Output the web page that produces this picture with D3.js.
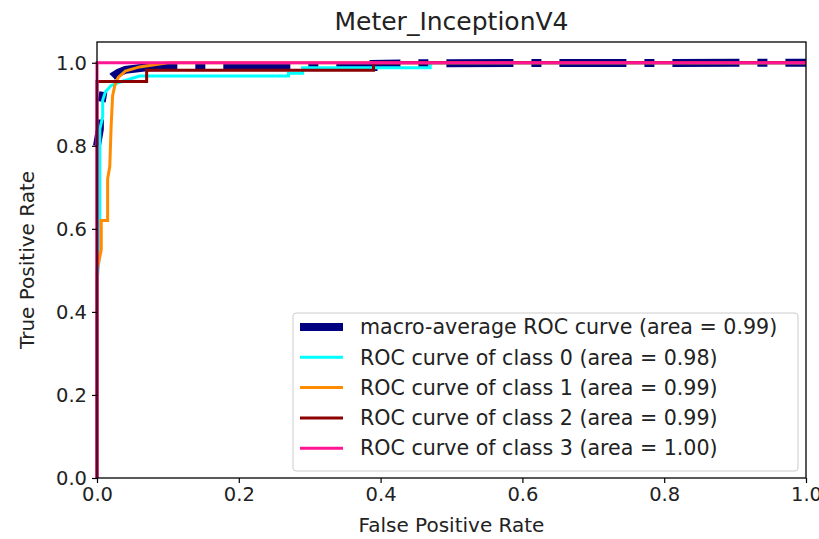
<!DOCTYPE html>
<html lang="en">
<head>
    <meta charset="UTF-8">
    <title>Meter_InceptionV4</title>
    <script src="https://d3js.org/d3.v7.min.js"></script>
    <style>
        * { margin: 0; padding: 0; box-sizing: border-box; }
        html, body { width: 819px; height: 539px; overflow: hidden; background: #fff; }
        svg { display: block; font-family: "DejaVu Sans", sans-serif; }
    </style>
</head>
<body>
<svg id="chart" width="819" height="539"></svg>
<script>
    // values
    const title = "Meter_InceptionV4"
    const xTicks = [0, 0.2, 0.4, 0.6, 0.8, 1.0]
    const yTicks = [0, 0.2, 0.4, 0.6, 0.8, 1.0]

    const macroFpr = [0, 0.004, 0.004, 0.008, 0.01, 0.015, 0.022, 0.03, 0.04, 0.07, 0.1, 0.39, 0.39, 0.47, 1.0]
    const macroTpr = [0.80, 0.84, 0.88, 0.92, 0.94, 0.955, 0.967, 0.976, 0.983, 0.989, 0.99, 0.99, 0.997, 0.999, 1.0]

    const fpr0 = [0, 0, 0.004, 0.004, 0.008, 0.008, 0.012, 0.02, 0.035, 0.06, 0.27, 0.27, 0.29, 0.29, 0.47, 0.47, 1]
    const tpr0 = [0, 0.47, 0.55, 0.84, 0.87, 0.91, 0.93, 0.945, 0.955, 0.968, 0.968, 0.975, 0.975, 0.988, 0.988, 1.0, 1.0]

    const fpr1 = [0, 0, 0.006, 0.006, 0.015, 0.015, 0.018, 0.02, 0.022, 0.025, 0.03, 0.04, 0.06, 0.1, 1]
    const tpr1 = [0, 0.50, 0.55, 0.62, 0.62, 0.72, 0.75, 0.85, 0.92, 0.945, 0.965, 0.98, 0.99, 1.0, 1.0]

    const fpr2 = [0, 0, 0.07, 0.07, 0.39, 0.39, 1]
    const tpr2 = [0, 0.955, 0.955, 0.982, 0.982, 1.0, 1.0]

    const fpr3 = [0, 0, 1]
    const tpr3 = [0, 1, 1]

    const labels = [
        "macro-average ROC curve (area = 0.99)",
        "ROC curve of class 0 (area = 0.98)",
        "ROC curve of class 1 (area = 0.99)",
        "ROC curve of class 2 (area = 0.99)",
        "ROC curve of class 3 (area = 1.00)",
    ]
    const colors = ["#000080", "#00ffff", "#ff8c00", "#8b0000", "#ff1493"]
    const widths = [8, 3, 3, 3, 3]

    const series = [
        [macroFpr, macroTpr],
        [fpr0, tpr0],
        [fpr1, tpr1],
        [fpr2, tpr2],
        [fpr3, tpr3],
    ].map(([f, t]) => f.map((v, i) => [v, t[i]]))

    const pLeft = 97, pRight = 806, pTop = 42, pBottom = 478
    const x = d3.scaleLinear().domain([0, 1]).range([pLeft, pRight])
    const y = d3.scaleLinear().domain([0, 1.05]).range([pBottom, pTop])

    const $svg = d3.select("#chart")
    $svg.append("rect").attr("width", 819).attr("height", 539).attr("fill", "#fff")

    const line = d3.line().x(d => x(d[0])).y(d => y(d[1]))
    const $lines = $svg.append("g")
    series.forEach((s, i) => {
        const p = $lines.append("path")
            .datum(s)
            .attr("d", line)
            .attr("fill", "none")
            .attr("stroke", colors[i])
            .attr("stroke-width", widths[i])
            .attr("stroke-linejoin", "miter")
        if (i === 0) {
            // dash-dot pattern, phase set so a long dash starts near x = 0.178
            const period = 113
            p.attr("stroke-dasharray", "67,18,10,18")
            const node = p.node()
            const total = node.getTotalLength()
            let L = 0
            for (let s2 = 0; s2 < total; s2 += 0.5) {
                const pt = node.getPointAtLength(s2)
                if (pt.x >= x(0.178)) { L = s2; break }
            }
            p.attr("stroke-dashoffset", (period - L % period) % period)
        }
    })

    // axes
    const $xAxis = $svg.append("g")
        .attr("transform", `translate(0,${pBottom})`)
        .call(d3.axisBottom(x).tickValues(xTicks).tickFormat(d3.format(".1f")).tickSize(5).tickPadding(4))
    const $yAxis = $svg.append("g")
        .attr("transform", `translate(${pLeft},0)`)
        .call(d3.axisLeft(y).tickValues(yTicks).tickFormat(d3.format(".1f")).tickSize(5).tickPadding(5))
    for (const $a of [$xAxis, $yAxis]) {
        $a.select(".domain").remove()
        $a.selectAll("line").attr("stroke", "#000").attr("stroke-width", 1.2)
        $a.selectAll("text").attr("font-size", 19.5).attr("fill", "#222")
            .attr("font-family", "DejaVu Sans, sans-serif")
    }

    // frame
    $svg.append("rect")
        .attr("x", pLeft).attr("y", pTop)
        .attr("width", pRight - pLeft).attr("height", pBottom - pTop)
        .attr("fill", "none").attr("stroke", "#000").attr("stroke-width", 1.3)

    $svg.append("text")
        .attr("x", (pLeft + pRight) / 2).attr("y", 30)
        .attr("text-anchor", "middle").attr("font-size", 25).attr("fill", "#222")
        .text(title)

    $svg.append("text")
        .attr("x", (pLeft + pRight) / 2).attr("y", 532)
        .attr("text-anchor", "middle").attr("font-size", 20).attr("fill", "#222")
        .text("False Positive Rate")

    $svg.append("text")
        .attr("transform", `translate(34,${(pTop + pBottom) / 2}) rotate(-90)`)
        .attr("text-anchor", "middle").attr("font-size", 20).attr("fill", "#222")
        .text("True Positive Rate")

    // legend
    const $legend = $svg.append("g")
    $legend.append("rect")
        .attr("x", 293).attr("y", 313).attr("width", 505).attr("height", 158)
        .attr("rx", 3).attr("fill", "#fff").attr("fill-opacity", 0.8)
        .attr("stroke", "#ccc").attr("stroke-width", 1)
    labels.forEach((lab, i) => {
        const cy = 327 + i * 30.3
        $legend.append("line")
            .attr("x1", 300).attr("x2", 343).attr("y1", cy).attr("y2", cy)
            .attr("stroke", colors[i]).attr("stroke-width", widths[i])
        $legend.append("text")
            .attr("x", 360).attr("y", cy).attr("dy", "0.35em")
            .attr("font-size", 20.6).attr("fill", "#222")
            .text(lab)
    })
</script>
</body>
</html>
